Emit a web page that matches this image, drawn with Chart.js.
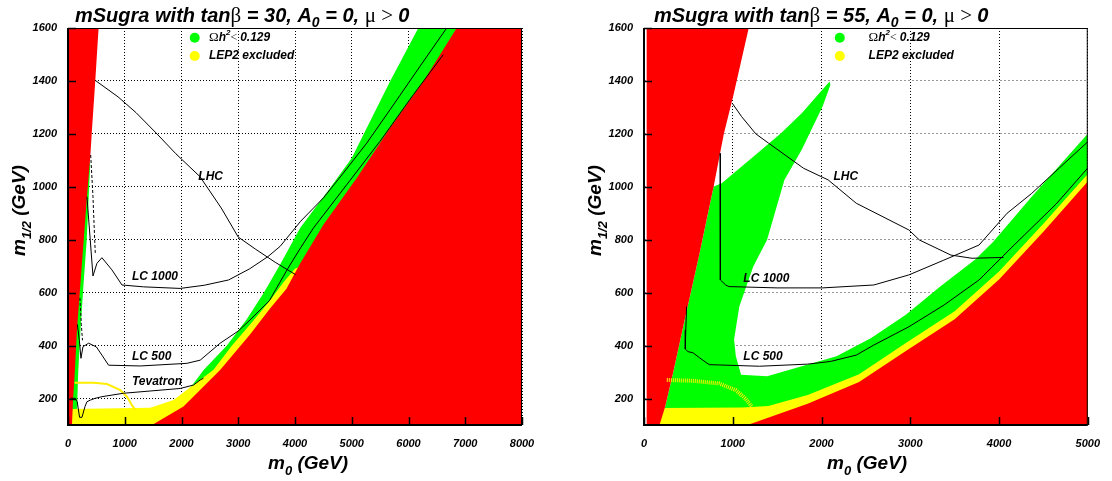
<!DOCTYPE html>
<html>
<head>
<meta charset="utf-8">
<script src="https://cdn.jsdelivr.net/npm/chart.js@4.4.0/dist/chart.umd.min.js"></script>
<style>
  html, body { margin: 0; padding: 0; background: #fff; }
  #wrap { position: relative; width: 1112px; height: 481px; }
  canvas { position: absolute; top: 0; }
</style>
</head>
<body>
<div id="wrap">
  <canvas id="c30" width="556" height="481" style="left:0"></canvas>
  <canvas id="c55" width="556" height="481" style="left:556px"></canvas>
</div>
<script>
// axis ticks
const xTicks30 = [0, 1000, 2000, 3000, 4000, 5000, 6000, 7000, 8000];
const xTicks55 = [0, 1000, 2000, 3000, 4000, 5000];
const yTicks = [200, 400, 600, 800, 1000, 1200, 1400, 1600];

// tan(beta) = 30 : regions (m0, m1/2)
const red30Left = [[0,100],[0,1600],[539,1600],[481,1402],[422,1215],[393,1114],[334,963],[246,711],[158,459],[120,300],[90,200],[70,100]];
const green30Left = [[392,1089],[330,800],[270,620],[220,459],[180,300],[160,160],[0,160],[0,1089]];
const green30Band = [[1860,194],[2035,207],[2390,308],[2800,400],[3150,500],[3450,600],[3738,706],[4090,844],[4618,995],[5000,1109],[5674,1398],[6173,1600],[8000,1600],[8000,100],[1500,100]];
const yellow30 = [[40,100],[40,160],[1450,165],[1860,194],[2200,250],[2560,308],[2890,400],[3250,490],[3560,570],[3800,640],[4000,690],[4300,720],[4300,100]];
const red30Right = [[1480,100],[2035,170],[2680,308],[3200,440],[3560,540],[3850,615],[4080,706],[4500,857],[5088,1033],[5674,1222],[6261,1398],[6849,1600],[8000,1600],[8000,100]];

// tan(beta) = 30 : reach contours
const lhc30 = [[481,1402],[881,1340],[1200,1280],[1572,1199],[1900,1125],[2327,1038],[2700,920],[3000,810],[3300,765],[3650,715],[4010,668]];
const lc1000_30 = [[334,963],[440,663],[510,711],[598,732],[774,686],[951,629],[1331,622],[1977,616],[2400,628],[2830,648],[3200,690],[3522,736],[3738,775],[4100,870],[4500,958],[4852,1052],[5264,1165],[5674,1291],[6202,1455],[6673,1600]];
const lc500_30 = [[165,480],[200,420],[228,352],[264,396],[363,409],[500,395],[598,364],[715,326],[1273,323],[2095,333],[2329,345],[2681,409],[3000,455],[3208,497],[3550,570],[3870,690],[4100,770],[4324,844],[4912,1008],[5498,1172],[6085,1348],[6613,1499]];
const tev30 = [[41,201],[129,201],[160,190],[204,129],[246,129],[300,170],[334,188],[393,194],[481,201],[598,207],[979,220],[1977,238],[2212,251],[2329,270],[2388,277]];
const lc1000dash30 = [[400,1120],[440,963],[470,800],[481,749]];
const lc500dash30 = [[210,580],[235,480],[255,420]];
const lep30 = [[117,260],[451,260],[687,255],[921,232],[1039,207],[1127,175],[1185,157]];

// tan(beta) = 55 : regions
const red55Left = [[30,100],[30,1600],[1180,1600],[1010,1350],[900,1200],[784,1000],[626,749],[460,500],[330,300],[240,171],[175,100]];
const green55 = [[200,100],[240,171],[330,300],[460,500],[626,749],[784,1000],[879,1014],[1231,1114],[1543,1202],[1777,1278],[2091,1398],[2100,1385],[2012,1303],[1777,1140],[1582,1026],[1387,800],[1231,699],[1074,548],[1015,423],[1035,360],[1094,290],[1387,284],[2169,360],[2560,429],[2950,517],[3341,624],[3732,725],[3927,790],[4368,962],[5000,1200],[5000,100]];
const yellow55 = [[150,100],[183,164],[1105,166],[1400,172],[1844,213],[2423,292],[2950,410],[3500,530],[4000,680],[4500,860],[5000,1048],[5000,100]];
const red55Right = [[1166,100],[1844,180],[2423,262],[2950,380],[3500,500],[4000,650],[4500,830],[5000,1020],[5000,100]];

// tan(beta) = 55 : reach contours
const lhc55 = [[996,1315],[1100,1265],[1260,1200],[1403,1165],[1798,1070],[2075,1026],[2391,938],[2984,837],[3103,799],[3458,742],[3696,730],[4051,733]];
const lc1000_55 = [[858,1126],[858,1000],[866,992],[858,984],[858,880],[866,872],[858,864],[858,648],[921,629],[958,623],[1500,618],[2012,618],[2589,629],[2984,667],[3379,723],[3775,780],[4091,900],[4368,975],[5000,1170]];
const lc500_55 = [[480,548],[471,459],[465,387],[496,377],[551,373],[626,354],[700,336],[736,328],[1300,322],[1844,330],[2100,340],[2391,364],[2589,402],[2984,471],[3379,553],[3775,648],[4170,780],[4644,935],[5000,1071]];
const lep55 = [[257,270],[551,267],[847,257],[1032,232],[1143,200],[1216,169]];

const FAM = '"Liberation Sans", Arial, sans-serif';
const bi = s => 'italic bold ' + s + 'px ' + FAM;
const sym = s => s + 'px "Liberation Serif", serif';
const RED = '#ff0000', GREEN = '#00ff00', YELLOW = '#ffff00';

const pts = a => a.map(([x, y]) => ({x, y}));
const areaSet = (a, color) => ({ data: pts(a), area: true, backgroundColor: color, showLine: false, pointRadius: 0 });
const lineSet = (a, color, width, dash) => ({ data: pts(a), showLine: true, borderColor: color, borderWidth: width,
  borderDash: dash || [], pointRadius: 0, fill: false, tension: 0 });

function rich(ctx, x, y, parts) {
  let cx = x;
  for (const [t, f, dy] of parts) {
    ctx.font = f;
    ctx.fillText(t, cx, y + (dy || 0));
    cx += ctx.measureText(t).width;
  }
}

function makeDecor(cfg) {
  return {
    id: 'decor',
    beforeDatasetsDraw(chart) {
      const {ctx, chartArea: a} = chart;
      ctx.save();
      ctx.beginPath();
      ctx.rect(a.left, a.top, a.width, a.height);
      ctx.clip();
      chart.data.datasets.forEach((ds, i) => {
        if (!ds.area) return;
        const el = chart.getDatasetMeta(i).data;
        ctx.beginPath();
        el.forEach((p, j) => j ? ctx.lineTo(p.x, p.y) : ctx.moveTo(p.x, p.y));
        ctx.closePath();
        ctx.fillStyle = ds.backgroundColor;
        ctx.fill();
      });
      ctx.restore();
    },
    afterDatasetsDraw(chart) {
      const {ctx, scales: {x, y}} = chart;
      ctx.save();
      ctx.fillStyle = '#000';
      ctx.textBaseline = 'middle';
      ctx.textAlign = 'left';
      for (const l of cfg.labels) {
        ctx.font = bi(12);
        ctx.fillText(l.text, x.getPixelForValue(l.x), y.getPixelForValue(l.y));
      }
      // legend
      const lx = x.getPixelForValue(cfg.legend.x), tx = x.getPixelForValue(cfg.legend.tx);
      const y1 = y.getPixelForValue(1563), y2 = y.getPixelForValue(1494);
      ctx.fillStyle = GREEN;
      ctx.beginPath(); ctx.arc(lx, y1, 5, 0, Math.PI * 2); ctx.fill();
      ctx.fillStyle = YELLOW;
      ctx.beginPath(); ctx.arc(lx, y2, 5, 0, Math.PI * 2); ctx.fill();
      ctx.fillStyle = '#000';
      rich(ctx, tx, y1, [['\u03A9', sym(13)], ['h', bi(12)], ['2', bi(8), -5], ['< ', sym(12)], ['0.129', bi(12)]]);
      rich(ctx, tx, y2, [['LEP2 excluded', bi(12)]]);
      ctx.restore();
    },
    afterDraw(chart) {
      const {ctx, chartArea: a, scales: {x, y}} = chart;
      ctx.save();
      ctx.strokeStyle = '#000';
      ctx.lineWidth = 1;
      ctx.strokeRect(a.left + 0.5, a.top + 0.5, a.width - 1, a.height - 1);
      ctx.lineWidth = 2;
      ctx.beginPath();
      ctx.moveTo(a.left, a.top); ctx.lineTo(a.left, a.bottom); ctx.lineTo(a.right, a.bottom);
      ctx.stroke();
      ctx.lineWidth = 1.5;
      ctx.beginPath();
      for (const v of cfg.xTicks) {
        const px = Math.round(x.getPixelForValue(v)) + 0.5;
        ctx.moveTo(px, a.bottom); ctx.lineTo(px, a.bottom - 8);
      }
      for (const v of yTicks) {
        const py = Math.round(y.getPixelForValue(v)) + 0.5;
        ctx.moveTo(a.left, py); ctx.lineTo(a.left + 8, py);
      }
      ctx.stroke();
      // titles
      ctx.fillStyle = '#000';
      ctx.textBaseline = 'alphabetic';
      ctx.textAlign = 'left';
      rich(ctx, cfg.titleX, 22, cfg.title);
      rich(ctx, cfg.xTitleX, 469, [['m', bi(19)], ['0', bi(13), 6], [' (GeV)', bi(19)]]);
      ctx.translate(cfg.yTitleX, 256);
      ctx.rotate(-Math.PI / 2);
      rich(ctx, 0, 0, [['m', bi(19)], ['1/2', bi(13), 6], [' (GeV)', bi(19)]]);
      ctx.restore();
    }
  };
}

function makeChart(id, cfg) {
  const tickFont = {family: FAM, size: 11, style: 'italic', weight: 'bold'};
  return new Chart(document.getElementById(id), {
    type: 'scatter',
    data: { datasets: cfg.datasets },
    options: {
      responsive: false,
      animation: false,
      events: [],
      layout: { padding: { left: 0, right: cfg.padRight, top: 28, bottom: 0 } },
      plugins: { legend: { display: false }, tooltip: { enabled: false } },
      scales: {
        x: {
          type: 'linear', min: 0, max: cfg.xMax,
          afterBuildTicks: s => { s.ticks = cfg.xTicks.map(v => ({value: v})); },
          afterFit: s => { s.height = 56; },
          ticks: { font: tickFont, color: '#000', padding: 12, maxRotation: 0, autoSkip: false, callback: v => String(v) },
          grid: { color: '#000', lineWidth: 1, drawTicks: false },
          border: { display: false, dash: [1, 2] }
        },
        y: {
          type: 'linear', min: 100, max: 1600,
          afterBuildTicks: s => { s.ticks = yTicks.map(v => ({value: v})); },
          afterFit: s => { s.width = cfg.yWidth; },
          ticks: { font: tickFont, color: '#000', padding: 11, autoSkip: false, callback: v => String(v) },
          grid: { color: cfg.yGridColor, lineWidth: 1, drawTicks: false },
          border: { display: false, dash: cfg.yGridDash }
        }
      }
    },
    plugins: [makeDecor(cfg)]
  });
}

makeChart('c30', {
  xMax: 8000, xTicks: xTicks30, yWidth: 68, padRight: 34,
  yGridColor: '#000', yGridDash: [1, 2],
  titleX: 75, xTitleX: 268, yTitleX: 25,
  title: [['mSugra with tan', bi(20)], ['\u03B2', sym(21)], [' = 30, A', bi(20)], ['0', bi(14), 5], [' = 0, ', bi(20)], ['\u03BC', sym(21)], [' > ', sym(21)], ['0', bi(20)]],
  legend: { x: 2233, tx: 2484 },
  labels: [
    {text: 'LHC', x: 2296, y: 1038},
    {text: 'LC 1000', x: 1127, y: 660},
    {text: 'LC 500', x: 1127, y: 358},
    {text: 'Tevatron', x: 1127, y: 263}
  ],
  datasets: [
    lineSet(lhc30, '#000', 1),
    lineSet(lc1000_30, '#000', 1),
    lineSet(lc500_30, '#000', 1),
    lineSet(tev30, '#000', 1),
    lineSet(lc1000dash30, '#000', 1, [3, 2]),
    lineSet(lc500dash30, '#000', 1, [3, 2]),
    lineSet(lep30, '#ffee00', 2),
    areaSet(green30Left, GREEN),
    areaSet(green30Band, GREEN),
    areaSet(yellow30, YELLOW),
    areaSet(red30Left, RED),
    areaSet(red30Right, RED)
  ]
});

makeChart('c55', {
  xMax: 5000, xTicks: xTicks55, yWidth: 88, padRight: 17,
  yGridColor: '#999', yGridDash: [2, 2],
  titleX: 98, xTitleX: 271, yTitleX: 45,
  title: [['mSugra with tan', bi(20)], ['\u03B2', sym(21)], [' = 55, A', bi(20)], ['0', bi(14), 5], [' = 0, ', bi(20)], ['\u03BC', sym(21)], [' > ', sym(21)], ['0', bi(20)]],
  legend: { x: 2206, tx: 2530 },
  labels: [
    {text: 'LHC', x: 2134, y: 1038},
    {text: 'LC 1000', x: 1119, y: 654},
    {text: 'LC 500', x: 1119, y: 358}
  ],
  datasets: [
    lineSet(lhc55, '#000', 1),
    lineSet(lc1000_55, '#000', 1),
    lineSet(lc500_55, '#000', 1),
    lineSet(lep55, '#ffee00', 4, [1, 1]),
    areaSet(green55, GREEN),
    areaSet(yellow55, YELLOW),
    areaSet(red55Left, RED),
    areaSet(red55Right, RED)
  ]
});
</script>
</body>
</html>
